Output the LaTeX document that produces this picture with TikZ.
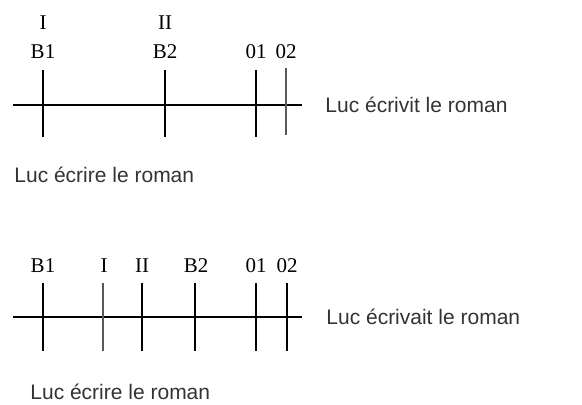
\documentclass[tikz,border=0pt]{standalone}
\usepackage{fontspec}
\setmainfont{Liberation Serif}
\setsansfont{Liberation Sans}
\usetikzlibrary{positioning}

\tikzset{
  axis/.style={line width=0.6pt},
  tick/.style={line width=0.6pt},
  softtick/.style={line width=0.7pt, black!65},
  point/.style={font=\fontsize{10.5}{12}\selectfont, inner sep=0pt},
  sentence/.style={font=\sffamily\fontsize{10.5}{12}\selectfont, text=black!80, inner sep=0pt, anchor=west}
}

\begin{document}
\begin{tikzpicture}[x=0.5pt,y=-0.5pt]
   \useasboundingbox (0,0) rectangle (582,405);

   % passe simple
   \begin{scope}
     \coordinate (sL) at (13,105);
     \coordinate (sR) at (302,105);
     \draw[axis] (sL) -- (sR);
     \foreach \name/\x in {sB1/43, sB2/165, sO1/256} {
       \coordinate (\name top) at (\x,70);
       \coordinate (\name bot) at (\x,137);
       \draw[tick] (\name top) -- (\name bot);
     }
     \coordinate (sO2top) at (286,68);
     \coordinate (sO2bot) at (286,135);
     \draw[softtick] (sO2top) -- (sO2bot);

     \node[point] (sLabB1) at (43,52) {B1};
     \node[point] (sLabI) at (43,23) {I};
     \node[point] (sLabB2) at (165,52) {B2};
     \node[point] (sLabII) at (165,23) {II};
     \node[point] (sLabO1) at (256,52) {01};
     \node[point] (sLabO2) at (286,52) {02};

     \node[sentence] (sFini) at (325,105) {Luc écrivit le roman};
     \node[sentence] (sInf) at (14,175) {Luc écrire le roman};
   \end{scope}

   % imparfait
   \begin{scope}
     \coordinate (iL) at (13,317);
     \coordinate (iR) at (302,317);
     \draw[axis] (iL) -- (iR);
     \foreach \name/\x in {iB1/43, iII/142, iB2/195, iO1/256, iO2/287} {
       \coordinate (\name top) at (\x,283);
       \coordinate (\name bot) at (\x,351);
       \draw[tick] (\name top) -- (\name bot);
     }
     \coordinate (iItop) at (103,283);
     \coordinate (iIbot) at (103,351);
     \draw[softtick] (iItop) -- (iIbot);

     \node[point] (iLabB1) at (43,266) {B1};
     \node[point] (iLabI) at (104,266) {I};
     \node[point] (iLabII) at (142,266) {II};
     \node[point] (iLabB2) at (196,266) {B2};
     \node[point] (iLabO1) at (256,266) {01};
     \node[point] (iLabO2) at (287,266) {02};

     \node[sentence] (iFini) at (326,317) {Luc écrivait le roman};
     \node[sentence] (iInf) at (30,392) {Luc écrire le roman};
   \end{scope}
\end{tikzpicture}
\end{document}
